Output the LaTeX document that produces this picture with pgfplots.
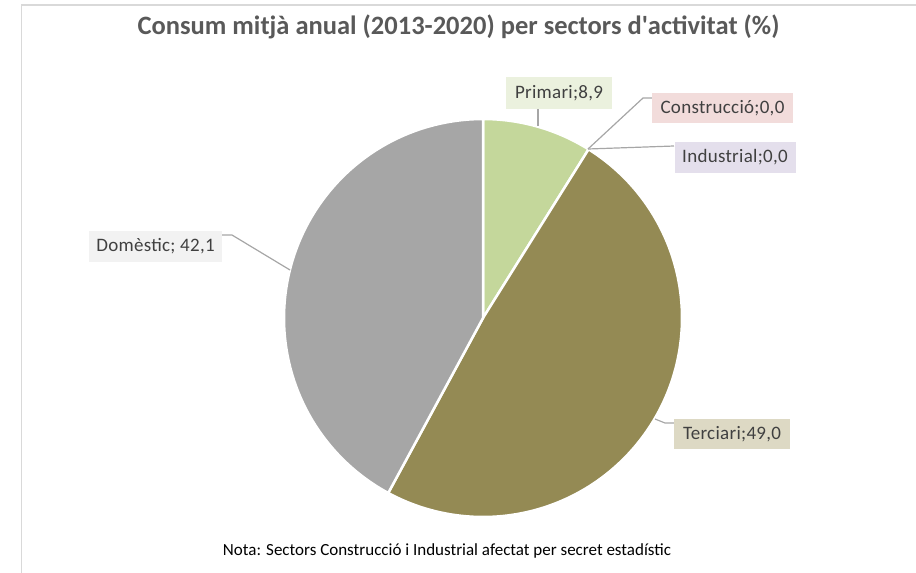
\documentclass[border=0pt]{standalone}
\usepackage{pgfplots}
\usepackage{pgfplotstable}
\pgfplotsset{compat=1.18}
\usepackage{fontspec}
\setmainfont{Carlito}
\definecolor{primcol}{HTML}{C4D79B}
\definecolor{tercol}{HTML}{948A54}
\definecolor{domcol}{HTML}{A6A6A6}
\definecolor{primbox}{HTML}{EBF1DE}
\definecolor{consbox}{HTML}{F2DCDB}
\definecolor{indbox}{HTML}{E4DFEC}
\definecolor{terbox}{HTML}{DDD9C4}
\definecolor{dombox}{HTML}{F2F2F2}
\definecolor{leader}{HTML}{A6A6A6}
\definecolor{titlecol}{HTML}{595959}
\definecolor{labcol}{HTML}{404040}
\definecolor{bordercol}{HTML}{D9D9D9}

\pgfplotstableread{
name value
Primari 8.9
Construccio 0.0
Industrial 0.0
Terciari 49.0
Domestic 42.1
}\piedata

\pgfplotstablegetelem{0}{value}\of\piedata \let\vA\pgfplotsretval
\pgfplotstablegetelem{1}{value}\of\piedata \let\vB\pgfplotsretval
\pgfplotstablegetelem{2}{value}\of\piedata \let\vC\pgfplotsretval
\pgfplotstablegetelem{3}{value}\of\piedata \let\vD\pgfplotsretval
\pgfplotstablegetelem{4}{value}\of\piedata \let\vE\pgfplotsretval
\pgfmathsetmacro{\aA}{90}
\pgfmathsetmacro{\aB}{\aA-3.6*\vA}
\pgfmathsetmacro{\aC}{\aB-3.6*\vB}
\pgfmathsetmacro{\aD}{\aC-3.6*\vC}
\pgfmathsetmacro{\aE}{\aD-3.6*\vD}
\pgfmathsetmacro{\aF}{\aE-3.6*\vE}

\newcommand{\labfont}{\fontsize{19}{22}\selectfont\addfontfeatures{LetterSpace=1.5}}

\begin{document}
\begin{tikzpicture}
\useasboundingbox (0,0) rectangle (916pt,573pt);
\begin{axis}[
  at={(0,0)}, anchor=south west,
  scale only axis, width=916pt, height=573pt,
  xmin=0, xmax=916, ymin=0, ymax=573, y dir=reverse,
  hide axis, clip=false,
]
% border
\addplot[bordercol, line width=1.5pt] coordinates {(21.5,573) (21.5,5) (916,5)};
% pie slices
\addplot[fill=primcol, draw=white, line width=2.5pt, domain=\aB:\aA, samples=60, variable=\t]
  ({483+199*cos(\t)},{318-199*sin(\t)}) -- (axis cs:483,318) -- cycle;
\addplot[fill=tercol, draw=white, line width=2.5pt, domain=\aE:\aD, samples=120, variable=\t]
  ({483+199*cos(\t)},{318-199*sin(\t)}) -- (axis cs:483,318) -- cycle;
\addplot[fill=domcol, draw=white, line width=2.5pt, domain=\aF:\aE, samples=120, variable=\t]
  ({483+199*cos(\t)},{318-199*sin(\t)}) -- (axis cs:483,318) -- cycle;
% leader lines
\addplot[leader, line width=1.2pt] coordinates {(538,109) (538,126)};
\addplot[leader, line width=1.2pt] coordinates {(588,149) (643,98) (652,98)};
\addplot[leader, line width=1.2pt] coordinates {(588,149) (674,146)};
\addplot[leader, line width=1.2pt] coordinates {(222,235) (232,235) (290,270)};
\addplot[leader, line width=1.2pt] coordinates {(655,419) (665,423) (674,423)};
% labels
\node[fill=primbox, minimum width=106pt, minimum height=32pt, inner sep=0pt, text=labcol, font=\labfont] at (axis cs:559,93) {Primari;8,9};
\node[fill=consbox, minimum width=141pt, minimum height=30pt, inner sep=0pt, text=labcol, font=\labfont] at (axis cs:722.5,108) {Construcció;0,0};
\node[fill=indbox, minimum width=121pt, minimum height=31pt, inner sep=0pt, text=labcol, font=\labfont] at (axis cs:735,157.5) {Industrial;0,0};
\node[fill=dombox, minimum width=133pt, minimum height=31pt, inner sep=0pt, text=labcol, font=\labfont] at (axis cs:155.5,246.5) {Domèstic; 42,1};
\node[fill=terbox, minimum width=116pt, minimum height=30pt, inner sep=0pt, text=labcol, font=\labfont] at (axis cs:732,434) {Terciari;49,0};
% title and note
\node[text=titlecol, font=\bfseries\fontsize{26.5}{30}\selectfont] at (axis cs:458.5,27) {Consum mitjà anual (2013-2020) per sectors d\textquotesingle activitat (\%)};
\node[text=black, font=\fontsize{17}{20}\selectfont] at (axis cs:447,551) {Nota: Sectors Construcció i Industrial afectat per secret estadístic};
\end{axis}
\end{tikzpicture}
\end{document}
